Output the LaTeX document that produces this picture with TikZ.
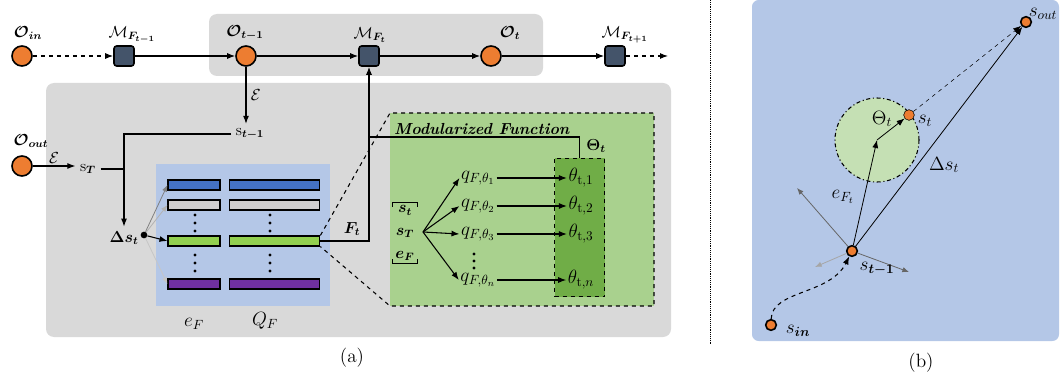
\documentclass[tikz,border=0pt]{standalone}
\usepackage{amsmath, amssymb, bm}
\usetikzlibrary{shapes, arrows.meta, positioning, calc}

\definecolor{objorange}{HTML}{ED7D31}
\definecolor{moddark}{HTML}{44546A}
\definecolor{boxgray}{HTML}{D9D9D9}
\definecolor{panelblue}{HTML}{B4C7E7}
\definecolor{funcgreen}{HTML}{A9D18E}
\definecolor{thetagreen}{HTML}{70AD47}
\definecolor{ballgreen}{HTML}{C5E0B4}
\definecolor{barblue}{HTML}{4472C4}
\definecolor{bargray}{HTML}{D0CECE}
\definecolor{bargreen}{HTML}{92D050}
\definecolor{barpurple}{HTML}{7030A0}

\begin{document}
\begin{tikzpicture}[
    x=0.75pt, y=-0.75pt,              % <── pixel grid of the figure
    every node/.style={font=\large},
    big_lab/.style={font=\Large, inner sep=1pt},
    obj_node/.style={circle, draw, very thick, fill=objorange, minimum size=15pt, inner sep=0pt},
    pt_node/.style={circle, draw, very thick, fill=objorange, minimum size=8pt, inner sep=0pt},
    mod_node/.style={rectangle, rounded corners=2pt, draw, very thick, fill=moddark, minimum size=15pt, inner sep=0pt},
    bar_node/.style={rectangle, draw, thick, minimum height=7.5pt, inner sep=0pt},
    arr/.style={-{Latex[length=6pt, width=4.5pt]}, thick},
    garr/.style={-{Latex[length=5pt, width=4pt]}, semithick}
    ]
    \useasboundingbox (0,0) rectangle (1060,381);

    % Backgrounds
    \fill[boxgray, rounded corners=6pt] (209,14) rectangle (543,76);
    \fill[boxgray, rounded corners=6pt] (46,83) rectangle (671,337);
    \fill[panelblue] (156,164) rectangle (330,306);
    \fill[funcgreen] (390,113) rectangle (654,306);

    % Top chain
    \node[obj_node] (oin) at (22,56) {};
    \node[mod_node] (mft1) at (124,56) {};
    \node[obj_node] (ot1) at (246,56) {};
    \node[mod_node] (mft) at (369,56) {};
    \node[obj_node] (ot) at (491,56) {};
    \node[mod_node] (mft2) at (615,56) {};
    \coordinate (chainend) at (668,56);

    \node at (28,33) {$\bm{\mathcal{O}_{in}}$};
    \node at (132,35) {$\mathcal{M}_{\bm{F_{t-1}}}$};
    \node at (245,33) {$\bm{\mathcal{O}_{t-1}}$};
    \node at (370,35) {$\mathcal{M}_{\bm{F_{t}}}$};
    \node at (510,33) {$\bm{\mathcal{O}_{t}}$};
    \node at (625,35) {$\mathcal{M}_{\bm{F_{t+1}}}$};

    \draw[arr, dashed] (oin) -- (mft1);
    \draw[arr] (mft1) -- (ot1);
    \draw[arr] (ot1) -- (mft);
    \draw[arr] (mft) -- (ot);
    \draw[arr] (ot) -- (mft2);
    \draw[arr, dashed] (mft2) -- (chainend);

    % States
    \node (st1) at (250,134) {$\mathrm{s}_{\bm{t-1}}$};
    \node[obj_node] (oout) at (22,166) {};
    \node at (31,141) {$\bm{\mathcal{O}_{out}}$};
    \node (sT) at (88,169) {$\mathrm{s}_{\bm{T}}$};
    \node (ds) at (124,238) {$\bm{\Delta s_t}$};
    \node[circle, fill, inner sep=0pt, minimum size=5pt] (dsdot) at (144,235) {};

    \draw[arr] (ot1) -- (ot1 |- st1.north) node[midway, right] {$\mathcal{E}$};
    \draw[arr] (oout) -- (oout -| sT.west) node[midway, above=-2pt] {$\mathcal{E}$};
    \draw[arr] (st1.west) -| (ds.north);
    \draw[thick] (sT.east) -- (sT.east -| ds.north);

    % Embedding table
    \node[bar_node, fill=barblue, minimum width=39pt] (e1) at (194,185) {};
    \node[bar_node, fill=bargray, minimum width=39pt] (e2) at (194,205) {};
    \node[bar_node, fill=bargreen, minimum width=39pt] (e3) at (194,241) {};
    \node[bar_node, fill=barpurple, minimum width=39pt] (e4) at (194,284) {};
    \node[bar_node, fill=barblue, minimum width=68pt] (q1) at (274.5,185) {};
    \node[bar_node, fill=bargray, minimum width=68pt] (q2) at (274.5,205) {};
    \node[bar_node, fill=bargreen, minimum width=68pt] (q3) at (274.5,241) {};
    \node[bar_node, fill=barpurple, minimum width=68pt] (q4) at (274.5,284) {};
    \foreach \y in {215,223,231,255,263,271}{
        \fill (195,\y) circle (1.3pt);
        \fill (270,\y) circle (1.3pt);
    }
    \node[big_lab] at (194,324) {$e_F$};
    \node[big_lab] at (265,321) {$Q_F$};

    \draw[garr, gray] (dsdot) -- (e1.west);
    \draw[garr, gray!60] (dsdot) -- (e2.west);
    \draw[arr] (dsdot) -- (e3.west);
    \draw[garr, gray!45] (dsdot) -- (e4.west);

    % Selected function
    \draw[arr] (q3.east) -| (mft.south);
    \node at (352,229) {$\bm{F_t}$};

    % Modularized function
    \coordinate (mfnw) at (390,113);
    \coordinate (mfne) at (654,113);
    \coordinate (mfse) at (654,306);
    \coordinate (mfsw) at (390,306);
    \draw[thick, dashed] (q3.north east) -- (mfnw) -- (mfne) -- (mfse) -- (mfsw) -- (q3.south east);
    \node at (482,129) {\textbf{\textit{Modularized Function}}};

    \node[draw, thick, dashed, fill=thetagreen, minimum width=37.5pt, minimum height=104pt] (thbox) at (579.5,227.5) {};
    \coordinate (ftup) at (370,137);
    \draw[thick] (ftup) -| (thbox.north);
    \node at (596,146) {$\bm{\Theta_t}$};

    \node[align=center, inner sep=2pt] (vec) at (405,233) {$\bm{s_t}$\\[3pt]$\bm{s_T}$\\[3pt]$\bm{e_F}$};
    \draw[thick] ([yshift=-3pt]vec.north west) -- (vec.north west) -- (vec.north east) -- ([yshift=-3pt]vec.north east);
    \draw[thick] ([yshift=3pt]vec.south west) -- (vec.south west) -- (vec.south east) -- ([yshift=3pt]vec.south east);
    \coordinate (fan) at (423,232);

    \foreach \n/\y/\k in {1/178/1, 2/206/2, 3/234/3, n/280/n}{
        \node[big_lab] (qf\n) at (478,\y) {$q_{F,\theta_\k}$};
        \node[big_lab] (th\n) at (581,\y) {$\theta_{\mathrm{t},\k}$};
        \draw[arr] (fan) -- (qf\n.west);
        \draw[arr] (qf\n.east) -- (th\n.west);
    }
    \foreach \y in {254,261,268}
        \fill (474,\y) circle (1.2pt);

    \node[big_lab] at (352,358) {(a)};

    % Separator
    \draw[densely dotted] (710,0) -- (710,345);

    % Panel (b)
    \fill[panelblue, rounded corners=5pt] (752,0) rectangle (1059,341);
    \node[circle, draw, thick, dash dot, fill=ballgreen, minimum size=63pt] (ball) at (877,140) {};

    \node[pt_node] (sout) at (1026,22) {};
    \node[pt_node, thin, minimum size=8pt] (st) at (909,115) {};
    \node[pt_node] (stm) at (852,251) {};
    \node[pt_node] (sin) at (771,325) {};

    \coordinate (g1) at (797,188);
    \coordinate (g2) at (815,267);
    \coordinate (g3) at (909,272);
    \draw[garr, gray!80!black] (stm) -- (g1);
    \draw[garr, gray!70] (stm) -- (g2);
    \draw[garr, gray!80!black] (stm) -- (g3);

    \draw[arr, semithick] (stm) -- (ball.center);
    \draw[arr, semithick] (ball.center) -- (st);
    \draw[arr, semithick] (stm) -- (sout);
    \draw[-{Latex[length=6pt, width=4.5pt]}, dashed, thin] (st) -- (sout);
    \draw[arr, dashed] (sin) .. controls (772,290) and (830,295) .. (stm);

    \node[big_lab] at (882,119) {$\Theta_t$};
    \node[big_lab] at (925,121) {$s_t$};
    \node[big_lab] at (1043,14) {$s_{out}$};
    \node[big_lab] at (944,165) {$\Delta s_t$};
    \node[big_lab] at (843,197) {$e_{F_t}$};
    \node[big_lab] at (877,269) {$s_{\bm{t-1}}$};
    \node[big_lab] at (798,331) {$s_{\bm{in}}$};

    \node[big_lab] at (921,363) {(b)};
\end{tikzpicture}
\end{document}
